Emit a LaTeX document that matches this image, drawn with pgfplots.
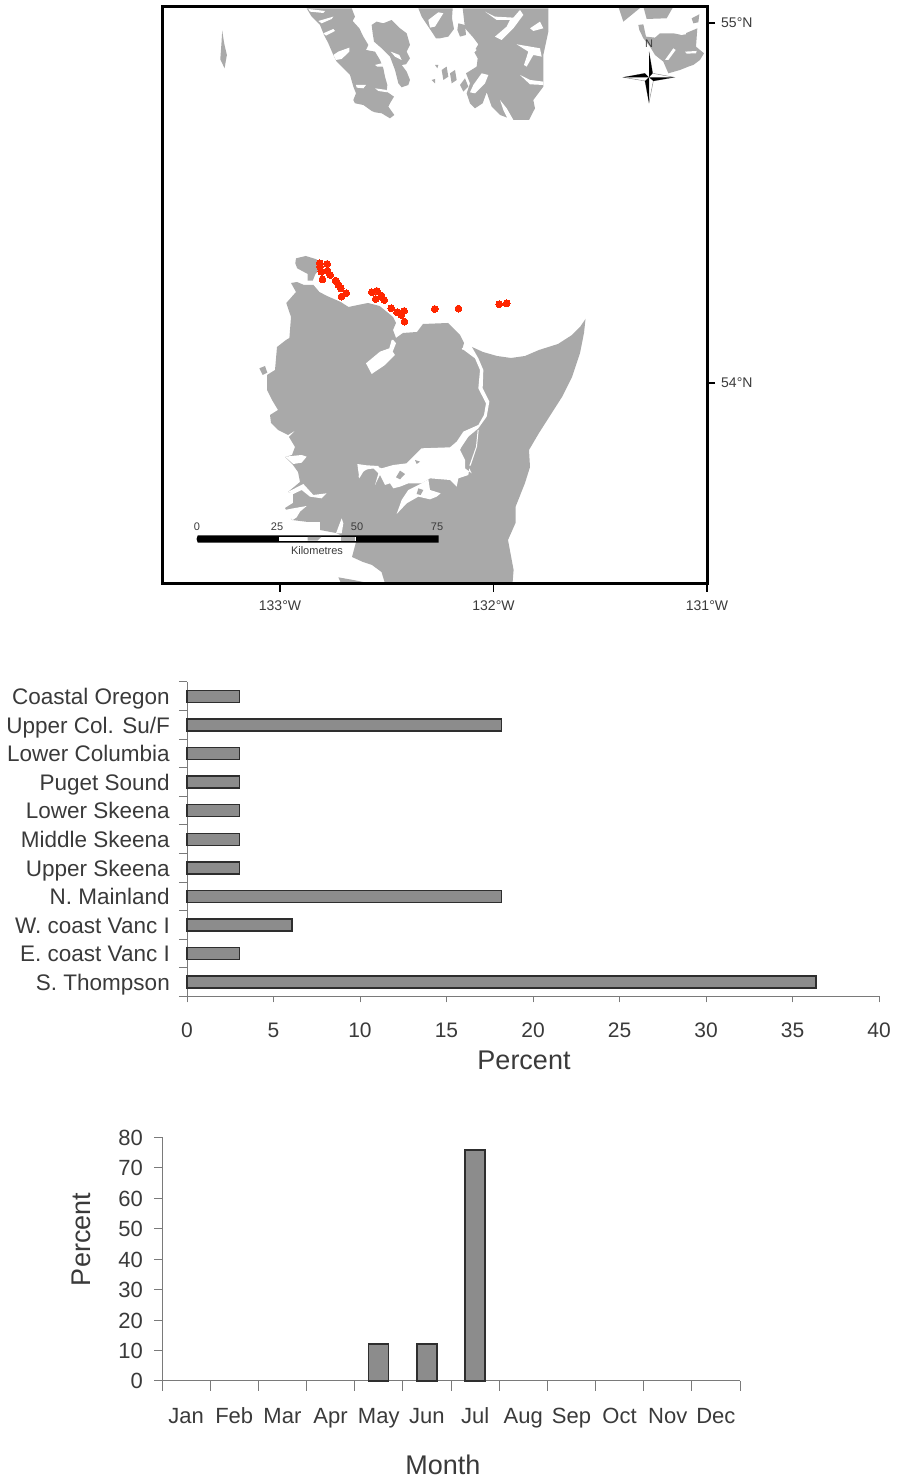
\documentclass[border=0pt]{standalone}
\usepackage{pgfplots}
\pgfplotsset{compat=1.18}
\usepackage{fontspec}
\setmainfont{Liberation Sans}
\definecolor{land}{HTML}{A9A9A9}
\definecolor{barfill}{HTML}{8C8C8C}
\definecolor{barline}{HTML}{2E2E2E}
\definecolor{axgray}{HTML}{7A7A7A}
\definecolor{txt}{HTML}{3A3A3A}
\definecolor{dots}{HTML}{FF2600}
% outlines are traced in picture units: z={x0}{y0}{scale}; zn / zs for the two wide tracings
\pgfplotsset{
  /pgfplots/table/z/.style n args={3}{row sep=\\,
    x expr={-133+(#1+\thisrowno{0}/#3-280)/213.5},
    y expr={54+(383-#2-\thisrowno{1}/#3)/360}},
  /pgfplots/table/zn/.style={row sep=\\,
    x expr={-133+(150.35+\thisrowno{0}/2.574-280)/213.5},
    y expr={54+(383-\thisrowno{1}/3)/360}},
  /pgfplots/table/zs/.style={row sep=\\,
    x expr={-133+(150.35+\thisrowno{0}/2.574-280)/213.5},
    y expr={54+(383-250-\thisrowno{1}/3)/360}},
  /pgfplots/table/ca/.style={z={300}{5}{3}},
  /pgfplots/table/cb/.style={z={250}{340}{3}},
  /pgfplots/table/cc/.style={z={350}{320}{3}},
  /pgfplots/table/cd/.style={z={610}{5}{3}},
  /pgfplots/table/px/.style={z={0}{0}{1}},
  lnd/.style={fill=land,draw=none,forget plot},
  wht/.style={fill=white,draw=none,forget plot},
  blk/.style={fill=black,draw=none,forget plot},
}
\newcommand{\fs}[1]{\fontsize{#1}{#1}\selectfont}
\newcommand{\pxnode}[4]{\node[text=txt,inner sep=0pt,font=\fs{#1}] at (#2pt,{1479pt-#3pt}) {#4};}
\begin{document}
\begin{tikzpicture}
\path[use as bounding box] (0,0) rectangle (896pt,1479pt);
%%%% MAP
\begin{axis}[at={(162pt,895pt)},anchor=south west,scale only axis,width=545pt,height=577pt,
  xmin=-133.5527,xmax=-131,ymin=53.4417,ymax=55.0444,
  axis on top,axis line style={black,line width=3pt},
  xtick={-133,-132,-131},xticklabels={133°W,132°W,131°W},
  ytick={54,55},yticklabels={54°N,55°N},
  xtick pos=bottom,ytick pos=right,tick align=outside,major tick length=8pt,
  tick style={black,line width=1.6pt},
  xticklabel style={font=\fs{14},text=txt,inner sep=0pt,yshift=-9pt},
  yticklabel style={font=\fs{14},text=txt,inner sep=0pt,xshift=6pt},
]
% north lands
\addplot[lnd] table[ca]{20 10\\ 155 10\\ 165 35\\ 158 48\\ 178 70\\ 190 95\\ 205 120\\ 198 135\\ 225 140\\ 240 165\\ 250 190\\ 255 215\\ 262 240\\ 260 260\\ 282 275\\ 270 295\\ 265 305\\ 283 330\\ 270 340\\ 245 325\\ 225 322\\ 215 318\\ 190 300\\ 165 295\\ 160 285\\ 168 265\\ 160 245\\ 150 210\\ 130 190\\ 110 170\\ 100 150\\ 85 115\\ 72 90\\ 60 60\\ 35 35\\};
\addplot[wht] table[ca]{100 150\\ 115 140\\ 148 128\\ 148 140\\ 125 162\\ 108 165\\};
\addplot[wht] table[ca]{168 240\\ 198 240\\ 190 250\\ 170 248\\};
\addplot[wht] table[ca]{225 250\\ 260 255\\ 262 262\\ 235 258\\};
\addplot[wht] table[ca]{225 180\\ 245 175\\ 250 185\\ 232 185\\};
\addplot[wht] table[ca]{55 48\\ 100 35\\ 95 42\\ 65 55\\};
\addplot[wht] table[ca]{70 85\\ 100 72\\ 105 78\\ 78 92\\};
\addplot[wht] table[ca]{25 12\\ 75 18\\ 70 24\\ 30 20\\};
\addplot[lnd] table[ca]{215 60\\ 230 50\\ 250 55\\ 275 45\\ 300 70\\ 320 85\\ 330 120\\ 320 140\\ 330 160\\ 318 178\\ 305 180\\ 320 200\\ 330 225\\ 325 240\\ 305 247\\ 295 235\\ 285 195\\ 270 155\\ 245 130\\ 222 110\\ 218 85\\};
\addplot[wht] table[ca]{272 140\\ 298 150\\ 305 165\\ 285 155\\};
\addplot[lnd] table[ca]{355 10\\ 458 10\\ 456 40\\ 462 72\\ 445 95\\ 420 100\\ 408 100\\ 385 65\\ 365 35\\};
\addplot[wht] table[ca]{385 45\\ 415 22\\ 430 25\\ 405 65\\ 390 68\\};
\addplot[lnd] table[ca]{488 10\\ 745 10\\ 745 80\\ 730 150\\ 730 245\\ 700 285\\ 705 310\\ 687 345\\ 640 345\\ 600 330\\ 575 305\\ 560 262\\ 548 295\\ 525 310\\ 510 295\\ 500 265\\ 510 235\\ 498 205\\ 530 185\\ 533 160\\ 522 140\\ 535 118\\ 520 98\\ 495 70\\};
\addplot[lnd] table[ca]{475 55\\ 495 60\\ 498 90\\ 480 95\\ 472 75\\};
\addplot[wht] table[ca]{555 20\\ 585 35\\ 640 38\\ 660 15\\ 670 30\\ 640 70\\ 605 105\\ 585 95\\ 620 65\\ 630 45\\ 590 45\\};
\addplot[wht] table[ca]{690 70\\ 720 50\\ 730 70\\ 700 78\\};
\addplot[wht] table[ca]{650 118\\ 720 130\\ 725 155\\ 700 150\\ 680 185\\ 672 180\\ 685 140\\};
\addplot[wht] table[ca]{660 210\\ 690 225\\ 730 230\\ 730 240\\ 690 238\\};
\addplot[wht] table[ca]{600 285\\ 620 310\\ 640 345\\ 625 345\\ 610 315\\};
\addplot[wht] table[ca]{520 240\\ 545 205\\ 565 210\\ 555 235\\ 525 265\\ 510 262\\};
\addplot[wht] table[ca]{510 120\\ 530 135\\ 520 145\\};
\addplot[lnd] table[ca]{425 195\\ 440 185\\ 445 215\\ 430 225\\};
\addplot[lnd] table[ca]{450 205\\ 465 195\\ 470 225\\ 455 235\\};
\addplot[lnd] table[ca]{480 240\\ 495 220\\ 505 245\\ 490 260\\};
\addplot[lnd] table[ca]{395 225\\ 405 222\\ 405 235\\};
\addplot[lnd] table[ca]{405 180\\ 415 180\\ 412 190\\};
\addplot[lnd] table[zn]{185 92\\ 190 130\\ 197 165\\ 191 205\\ 180 178\\ 183 130\\};
% north-east
\addplot[lnd] table[cd]{25 5\\ 95 5\\ 40 50\\};
\addplot[lnd] table[cd]{100 5\\ 190 5\\ 170 40\\ 110 42\\};
\addplot[lnd] table[cd]{245 40\\ 268 28\\ 265 52\\ 250 55\\};
\addplot[lnd] table[cd]{85 60\\ 100 58\\ 108 95\\ 135 98\\ 150 85\\ 190 85\\ 215 90\\ 262 70\\ 258 125\\ 282 145\\ 270 165\\ 250 180\\ 235 185\\ 210 195\\ 175 205\\ 160 170\\ 135 150\\ 120 125\\ 100 100\\ 88 75\\};
\addplot[wht] table[cd]{165 165\\ 190 130\\ 197 135\\ 175 165\\};
\addplot[wht] table[cd]{225 140\\ 260 138\\ 258 145\\ 230 146\\};
\addplot[wht] table[cd]{210 80\\ 225 75\\ 228 88\\ 212 90\\};
% south lands
\addplot[lnd] table[zs]{375 25\\ 400 18\\ 428 28\\ 435 60\\ 425 72\\ 418 92\\ 405 92\\ 405 72\\ 378 55\\ 373 40\\};
\addplot[lnd] table[px]{291 283\\ 297 282\\ 304 285\\ 313.5 285\\ 319.4 292\\ 327 296\\ 340.7 302\\ 348.5 307\\ 358 305\\ 368 303\\ 379.6 306\\ 387 312\\ 393 317\\ 396 323\\ 393 330\\ 396 338\\ 403 333\\ 417 332\\ 423 324\\ 448 323\\ 460 335\\ 464 343\\ 462 350\\ 472 347\\ 483 352\\ 497 356\\ 511 358\\ 525 356\\ 539 350\\ 558 344\\ 572 335\\ 580 327\\ 585.5 319\\ 584 333\\ 580 353\\ 572 377\\ 562 397\\ 550.5 415\\ 539 433\\ 529 450\\ 530 467\\ 525 483\\ 515.5 507\\ 515.5 523\\ 508 540\\ 513.6 570\\ 512 590\\ 387 590\\ 381.5 572\\ 372 565\\ 363 562\\ 352 557\\ 356 542\\ 336 533\\ 320 530\\ 320 522\\ 308 522\\ 292 520\\ 285 508\\ 293 503\\ 293 493\\ 288 492\\ 300 482\\ 298 472\\ 293 465\\ 285 457\\ 292 455\\ 295 447\\ 289 437\\ 296 430\\ 288 435\\ 278 430\\ 271 423\\ 270 415\\ 278 410\\ 272 400\\ 267 390\\ 267 375\\ 275 370\\ 277 347\\ 286 340\\ 289.4 338\\ 291 317\\ 286.3 303\\ 296 292\\};
\addplot[lnd] table[cb]{28 85\\ 45 78\\ 52 98\\ 38 105\\};
\addplot[lnd] table[cb]{265 712\\ 310 720\\ 350 728\\ 350 745\\ 280 745\\};
\addplot[wht] table[cc]{130 60\\ 138 70\\ 128 95\\ 135 105\\ 105 135\\ 65 162\\ 48 130\\ 90 95\\ 118 85\\ 125 60\\};
\addplot[wht] table[cc]{335 85\\ 365 80\\ 385 115\\ 400 150\\ 398 205\\ 418 245\\ 410 290\\ 385 325\\ 355 350\\ 335 380\\ 330 390\\ 345 420\\ 345 445\\ 365 460\\ 358 445\\ 355 465\\ 325 475\\ 320 500\\ 300 480\\ 240 475\\ 215 490\\ 175 490\\ 150 500\\ 130 505\\ 120 490\\ 105 495\\ 90 465\\ 75 495\\ 85 460\\ 70 445\\ 40 450\\ 25 472\\ 35 440\\ 75 438\\ 95 445\\ 130 435\\ 170 430\\ 195 405\\ 215 385\\ 300 382\\ 320 365\\ 340 335\\ 385 315\\ 402 285\\ 408 250\\ 385 205\\ 390 150\\ 375 115\\};
\addplot[wht] table[cc]{235 478\\ 240 510\\ 272 520\\ 260 530\\ 240 538\\ 205 530\\ 170 550\\ 140 582\\ 155 540\\ 175 510\\ 215 490\\};
\addplot[wht] table[cc]{386 330\\ 381 380\\ 362 437\\ 358 437\\ 378 380\\ 383 330\\};
\addplot[lnd] table[cc]{150 452\\ 165 462\\ 150 478\\ 138 472\\};
\addplot[lnd] table[cc]{195 420\\ 210 425\\ 200 432\\};
\addplot[lnd] table[cc]{205 505\\ 220 510\\ 212 525\\ 200 522\\};
\addplot[wht] table[cb]{105 350\\ 155 345\\ 170 350\\ 155 368\\ 130 372\\};
\addplot[wht] table[cb]{115 455\\ 160 432\\ 190 465\\ 230 460\\ 215 475\\ 180 470\\ 155 450\\ 130 462\\};
\addplot[wht] table[cb]{105 510\\ 130 505\\ 170 498\\ 150 515\\ 140 532\\ 128 540\\ 108 522\\};
\addplot[wht] table[cb]{258 580\\ 275 535\\ 280 550\\ 275 580\\};
\addplot[wht] table[cb]{322 372\\ 350 376\\ 385 378\\ 388 385\\ 355 385\\ 340 395\\ 328 415\\};
% sample sites
\addplot[only marks,mark=*,mark size=3.4pt,mark options={fill=dots,draw=dots,line width=0pt},forget plot] table[zs]{436 40\\ 437 50\\ 455 42\\ 440 65\\ 456 62\\ 463 75\\ 443 88\\ 477 92\\ 484 104\\ 490 115\\ 504 130\\ 492 140\\ 570 127\\ 583 123\\ 580 147\\ 595 137\\ 602 150\\ 620 175\\ 635 187\\ 646 195\\ 653 183\\ 654 215\\ 732 177\\ 793 176\\ 898 163\\ 917 160\\};
% scale bar
\addplot[blk] table[zs]{122 856\\ 742 856\\ 742 878\\ 122 878\\ 119 867\\};
\addplot[wht] table[zs]{330 861\\ 530 861\\ 530 872\\ 330 872\\};
\addplot[lnd] table[zs]{405 861\\ 440 861\\ 430 872\\ 405 872\\};
\addplot[lnd] table[zs]{490 861\\ 526 861\\ 526 872\\ 490 872\\};
% compass rose
\addplot[fill=white,draw=gray,line width=0.4pt,forget plot] table[cd]{117 140\\ 128 205\\ 193 217\\ 130 228\\ 117 293\\ 105 228\\ 40 217\\ 105 205\\};
\addplot[blk] table[cd]{117 140\\ 128 205\\ 117 217\\};
\addplot[blk] table[cd]{193 217\\ 130 228\\ 117 217\\};
\addplot[blk] table[cd]{117 293\\ 105 228\\ 117 217\\};
\addplot[blk] table[cd]{40 217\\ 105 205\\ 117 217\\};
\end{axis}
\pxnode{11}{197}{527}{0}
\pxnode{11}{277}{527}{25}
\pxnode{11}{357}{527}{50}
\pxnode{11}{437}{527}{75}
\pxnode{11}{317}{551}{Kilometres}
\pxnode{11}{649}{44}{N}
%%%% STOCK BARS
\pgfplotstableread{
pos pct
1 36.36
2 3.03
3 6.06
4 18.18
5 3.03
6 3.03
7 3.03
8 3.03
9 3.03
10 18.18
11 3.03
}\stock
\begin{axis}[at={(187pt,482.5pt)},anchor=south west,scale only axis,width=692pt,height=314.5pt,
  xmin=0,xmax=40,ymin=0.5,ymax=11.5,
  axis lines=left,axis line style={-,axgray,line width=1pt},
  xbar,bar width=12pt,bar shift=0pt,clip=false,
  xtick={0,5,...,40},
  ytick={1,...,11},
  yticklabels={S. Thompson,E. coast Vanc I,W. coast Vanc I,N. Mainland,Upper Skeena,Middle Skeena,Lower Skeena,Puget Sound,Lower Columbia,Upper Col. Su/F,Coastal Oregon},
  minor ytick={0.5,1.5,...,11.5},
  tick align=outside,tick pos=left,
  y tick style={draw=none},
  x tick style={axgray,line width=1pt},
  minor y tick style={draw=axgray,line width=1pt},
  major tick length=6pt,minor tick length=8pt,
  /pgf/number format/assume math mode=true,
  xticklabel style={font=\fs{21},text=txt,inner sep=0pt,text height=15pt,text depth=0pt,yshift=-20pt},
  yticklabel style={font=\fs{22.5},text=txt,inner sep=0pt,text height=16.5pt,text depth=5pt,xshift=-11pt,yshift=-2.5pt},
  xlabel={Percent},
  xlabel style={font=\fs{27},text=txt,inner sep=0pt,at={(axis description cs:0.487,0)},anchor=center,yshift=-64pt},
]
\addplot[fill=barfill,draw=barline,line width=1.4pt] table[x=pct,y=pos]{\stock};
\end{axis}
%%%% MONTH BARS
\begin{axis}[at={(162pt,98pt)},anchor=south west,scale only axis,width=578pt,height=244pt,
  xmin=0.5,xmax=12.5,ymin=0,ymax=80,
  axis lines=left,axis line style={-,axgray,line width=1pt},
  ybar,bar width=20pt,bar shift=0pt,clip=false,
  ytick={0,10,...,80},
  xtick={1,...,12},
  xticklabels={Jan,Feb,Mar,Apr,May,Jun,Jul,Aug,Sep,Oct,Nov,Dec},
  minor xtick={0.5,1.5,...,12.5},
  tick align=outside,tick pos=left,
  x tick style={draw=none},
  y tick style={axgray,line width=1pt},
  minor x tick style={draw=axgray,line width=1pt},
  major tick length=8pt,minor tick length=10pt,
  /pgf/number format/assume math mode=true,
  xticklabel style={font=\fs{22},text=txt,inner sep=0pt,text height=16pt,text depth=5pt,yshift=-18pt},
  yticklabel style={font=\fs{22},text=txt,inner sep=0pt,text height=16pt,text depth=0pt,xshift=-11pt},
  xlabel={Month},
  xlabel style={font=\fs{27},text=txt,inner sep=0pt,at={(axis description cs:0.486,0)},anchor=center,yshift=-84pt},
  ylabel={Percent},
  ylabel style={font=\fs{27},text=txt,inner sep=0pt,at={(axis description cs:0,0.58)},anchor=center,yshift=81pt},
]
\addplot[fill=barfill,draw=barline,line width=1.4pt] table[x=m,y=pct] {
m pct
5 12.12
6 12.12
7 75.76
};
\end{axis}
\end{tikzpicture}
\end{document}
